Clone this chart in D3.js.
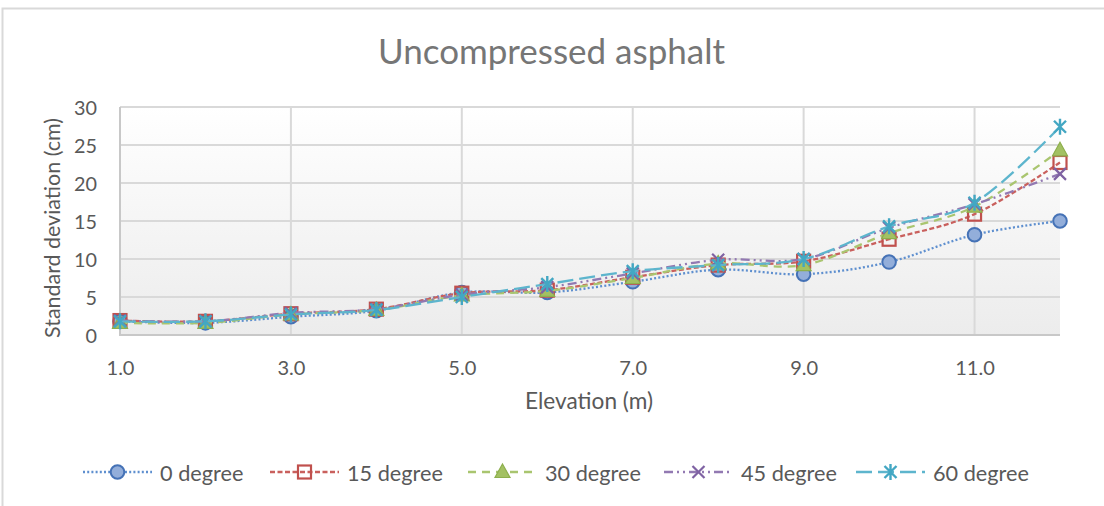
<!DOCTYPE html>
<html><head><meta charset="utf-8">
<script src="https://cdn.jsdelivr.net/npm/d3@7"></script>
<style>
body{margin:0;background:#fff}
svg{display:block}
text{font-family:Lato,'Open Sans',sans-serif}
</style>
</head><body>
<svg id="c" width="1104" height="506"></svg>
<script>
// ---------- data ----------
const elevations = [1,2,3,4,5,6,7,8,9,10,11,12];
const deg0  = [1.8, 1.6, 2.4, 3.2, 5.6, 5.6, 7.0, 8.6, 8.0, 9.6, 13.2, 15.0];
const deg15 = [1.9, 1.8, 2.8, 3.4, 5.5, 5.9, 7.6, 9.2, 9.7, 12.6, 15.9, 22.7];
const deg30 = [1.6, 1.6, 2.7, 3.3, 5.2, 5.8, 7.5, 9.4, 9.2, 13.4, 16.9, 24.3];
const deg45 = [1.9, 1.8, 2.9, 3.4, 5.3, 6.3, 8.1, 9.9, 10.0, 14.1, 17.2, 21.2];
const deg60 = [1.8, 1.8, 2.7, 3.3, 5.0, 6.7, 8.4, 9.2, 10.0, 14.3, 17.4, 27.4];
const seriesNames = ["0 degree","15 degree","30 degree","45 degree","60 degree"];
const xTicks = [1,3,5,7,9,11];
const yTicks = [0,5,10,15,20,25,30];
const titleText = "Uncompressed asphalt";
const xTitle = "Elevation (m)";
const yTitle = "Standard deviation (cm)";

// ---------- styles ----------
const styles = [
  {line:"#5E8FCF", dash:"2,2.2", marker:"circle", fill:"#93AEDA", stroke:"#4572B6"},
  {line:"#C9605D", dash:"5,2.5", marker:"square", fill:"none", stroke:"#C0504D"},
  {line:"#A9C56F", dash:"8,6", marker:"triangle", fill:"#A3C163", stroke:"#8DAF4D"},
  {line:"#9279B2", dash:"9,4,2,4,2,4", marker:"x", fill:"none", stroke:"#7F62A3"},
  {line:"#5DB5CD", dash:"16,6", marker:"star", fill:"none", stroke:"#43A7C3"}
];
const allSeries = [deg0,deg15,deg30,deg45,deg60];

const svg = d3.select("#c");
const W=1104,H=506;
const L=120,R=1060,T=107,B=335;

function fit(sel,target){
  const w = sel.node().getComputedTextLength();
  const fs = parseFloat(sel.attr("font-size"));
  const nfs = fs*target/w;
  sel.attr("font-size", nfs);
  return nfs;
}

// chart border
svg.append("rect").attr("x",2.5).attr("y",8.5).attr("width",W+20).attr("height",H+20)
  .attr("fill","#fff").attr("stroke","#D9D9D9").attr("stroke-width",2);

const x = d3.scaleLinear().domain([1,12]).range([L,R]);
const y = d3.scaleLinear().domain([0,30]).range([B,T]);

// plot background gradient
const defs = svg.append("defs");
const g = defs.append("linearGradient").attr("id","bg").attr("x1",0).attr("y1",0).attr("x2",0).attr("y2",1);
g.append("stop").attr("offset","0%").attr("stop-color","#FFFFFF");
g.append("stop").attr("offset","100%").attr("stop-color","#ECECEC");
svg.append("rect").attr("x",L).attr("y",T).attr("width",R-L).attr("height",B-T).attr("fill","url(#bg)");

// gridlines
svg.append("g").selectAll("line").data(yTicks.filter(d=>d>0)).join("line")
  .attr("x1",L).attr("x2",R).attr("y1",d=>y(d)).attr("y2",d=>y(d))
  .attr("stroke","#D9D9D9").attr("stroke-width",2);
svg.append("g").selectAll("line").data(xTicks.filter(d=>d>1)).join("line")
  .attr("x1",d=>x(d)).attr("x2",d=>x(d)).attr("y1",T).attr("y2",B)
  .attr("stroke","#D9D9D9").attr("stroke-width",2);

// axis lines
svg.append("line").attr("x1",L).attr("x2",L).attr("y1",T).attr("y2",B).attr("stroke","#C8C8C8").attr("stroke-width",2);
svg.append("line").attr("x1",L-1).attr("x2",R).attr("y1",B).attr("y2",B).attr("stroke","#C8C8C8").attr("stroke-width",2);

// axes (labels)
const yAx = svg.append("g").attr("transform",`translate(${97},0)`)
  .call(d3.axisLeft(y).tickValues(yTicks).tickSize(0).tickPadding(0).tickFormat(d3.format("d")));
yAx.select(".domain").remove();
yAx.selectAll("text").attr("fill","#595959").attr("font-size",20).attr("font-family","Lato").attr("dy","0.36em");
{
  const t30 = yAx.selectAll("text").filter(d=>d===30);
  const fs = fit(t30,23);
  yAx.selectAll("text").attr("font-size",fs);
}
const xAx = svg.append("g").attr("transform",`translate(0,${B})`)
  .call(d3.axisBottom(x).tickValues(xTicks).tickSize(0).tickPadding(0).tickFormat(d3.format(".1f")));
xAx.select(".domain").remove();
xAx.selectAll("text").attr("fill","#595959").attr("font-size",20).attr("font-family","Lato").attr("dy",null).attr("y",40);
{
  const t1 = xAx.selectAll("text").filter(d=>d===1);
  const fs = fit(t1,28);
  xAx.selectAll("text").attr("font-size",fs);
}

// title
const tt = svg.append("text").attr("x",551.5).attr("y",64).attr("text-anchor","middle")
  .attr("fill","#767676").attr("font-size",30).text(titleText);
fit(tt,347);

// axis titles
const xt = svg.append("text").attr("x",589).attr("y",409).attr("text-anchor","middle")
  .attr("fill","#595959").attr("font-size",20).text(xTitle);
fit(xt,128);
const yt = svg.append("text").attr("transform","translate(60,228) rotate(-90)").attr("text-anchor","middle")
  .attr("fill","#595959").attr("font-size",20).text(yTitle);
fit(yt,220);

// marker drawing
function drawMarker(sel, st, cx, cy){
  const m = sel.append("g").attr("transform",`translate(${cx},${cy})`);
  if(st.marker==="circle"){
    m.append("circle").attr("r",6.8).attr("fill",st.fill).attr("stroke",st.stroke).attr("stroke-width",2);
  } else if(st.marker==="square"){
    m.append("rect").attr("x",-6.5).attr("y",-6.5).attr("width",13).attr("height",13)
      .attr("fill",st.fill).attr("stroke",st.stroke).attr("stroke-width",2.2);
  } else if(st.marker==="triangle"){
    m.append("path").attr("d","M0,-8L7.5,5.5L-7.5,5.5Z").attr("fill",st.fill).attr("stroke",st.stroke).attr("stroke-width",1.2);
  } else if(st.marker==="x"){
    m.append("path").attr("d","M-6,-6L6,6M-6,6L6,-6").attr("stroke",st.stroke).attr("stroke-width",2.2).attr("fill","none");
  } else if(st.marker==="star"){
    m.append("path").attr("d","M-6,-6L6,6M-6,6L6,-6M0,-8L0,8").attr("stroke",st.stroke).attr("stroke-width",2.4).attr("fill","none");
  }
}

// series
const lineGen = d3.line().x((d,i)=>x(elevations[i])).y(d=>y(d)).curve(d3.curveCardinal.tension(0));
allSeries.forEach((vals,si)=>{
  const st = styles[si];
  const gs = svg.append("g");
  gs.append("path").datum(vals).attr("d",lineGen).attr("fill","none")
    .attr("stroke",st.line).attr("stroke-width",2.3).attr("stroke-dasharray",st.dash);
  vals.forEach((v,i)=>drawMarker(gs,st,x(elevations[i]),y(v)));
});

// legend
const legendX = [83,270,468,664,856];
const legY = 472;
const lg = svg.append("g");
let legFs = 20;
{
  const tmp = lg.append("text").attr("font-size",20).text(seriesNames[1]);
  legFs = fit(tmp,96);
  tmp.remove();
}
seriesNames.forEach((n,i)=>{
  const st = styles[i];
  const x0 = legendX[i];
  lg.append("line").attr("x1",x0).attr("x2",x0+69).attr("y1",legY).attr("y2",legY)
    .attr("stroke",st.line).attr("stroke-width",2.3).attr("stroke-dasharray",st.dash);
  drawMarker(lg,st,x0+34.5,legY);
  lg.append("text").attr("x",x0+77).attr("y",legY+9).attr("fill","#595959").attr("font-size",legFs).text(n);
});
</script>
</body></html>
